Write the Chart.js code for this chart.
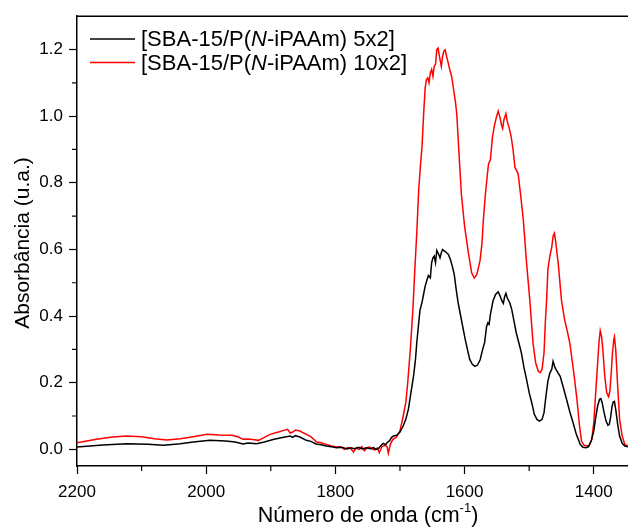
<!DOCTYPE html>
<html>
<head>
<meta charset="utf-8">
<script src="https://cdn.jsdelivr.net/npm/chart.js@4"></script>
<style>
    html, body { margin: 0; padding: 0; background: #fff; }
    #wrap { width: 628px; height: 527px; position: relative; }
</style>
</head>
<body>
<div id="wrap"><canvas id="ftir"></canvas></div>
<script>
// wavenumbers (cm-1) and absorbance
const blackWave = [2200, 2160, 2123, 2090, 2066, 2040, 2020, 1994, 1970, 1955, 1943, 1935, 1922, 1910, 1895, 1880, 1870, 1866, 1862, 1855,
    1845, 1838, 1830, 1822, 1814, 1806, 1798, 1790, 1782, 1776, 1770, 1764, 1758, 1752, 1746, 1741, 1737, 1733, 1729, 1726,
    1722, 1720, 1716, 1713, 1710, 1705, 1700, 1695, 1691, 1687, 1683, 1679, 1676, 1674, 1671, 1669, 1666, 1663, 1661, 1658,
    1656, 1653, 1651, 1649, 1647, 1645, 1643, 1640, 1638, 1636, 1634, 1631, 1628, 1625, 1622, 1619, 1616, 1613, 1610, 1607,
    1603, 1599, 1595, 1592, 1588, 1584, 1580, 1576, 1572, 1569, 1566, 1564, 1562, 1560, 1556, 1552, 1548, 1545, 1542, 1540,
    1538, 1536, 1534, 1530, 1527, 1524, 1520, 1516, 1512, 1508, 1504, 1500, 1496, 1492, 1488, 1484, 1480, 1477, 1474, 1471,
    1468, 1465, 1463, 1460, 1457, 1452, 1447, 1442, 1437, 1432, 1427, 1421, 1417, 1412, 1408, 1404, 1400, 1397, 1394, 1391,
    1389, 1387, 1384, 1381, 1378, 1376, 1374, 1372, 1370, 1368, 1366, 1363, 1360, 1356, 1352, 1347];
const blackAbs = [0.007, 0.013, 0.017, 0.015, 0.012, 0.017, 0.022, 0.027, 0.025, 0.022, 0.016, 0.019, 0.017, 0.022, 0.030, 0.036, 0.040, 0.036, 0.041, 0.037,
    0.027, 0.024, 0.016, 0.014, 0.010, 0.008, 0.005, 0.006, 0.001, 0.005, 0.002, 0.006, 0.001, 0.005, 0.002, 0.005, 0.000, 0.003, 0.012, 0.018,
    0.014, 0.020, 0.026, 0.036, 0.040, 0.042, 0.052, 0.070, 0.090, 0.120, 0.170, 0.220, 0.270, 0.320, 0.380, 0.418, 0.440, 0.470, 0.490, 0.510,
    0.522, 0.515, 0.560, 0.575, 0.580, 0.560, 0.597, 0.585, 0.575, 0.590, 0.600, 0.595, 0.590, 0.585, 0.570, 0.550, 0.525, 0.480, 0.440, 0.410,
    0.370, 0.330, 0.295, 0.270, 0.255, 0.249, 0.253, 0.268, 0.300, 0.320, 0.368, 0.380, 0.375, 0.405, 0.445, 0.465, 0.473, 0.460, 0.445, 0.438,
    0.458, 0.468, 0.455, 0.440, 0.420, 0.390, 0.350, 0.320, 0.289, 0.245, 0.209, 0.170, 0.140, 0.105, 0.090, 0.085, 0.090, 0.110, 0.160, 0.205,
    0.229, 0.240, 0.264, 0.245, 0.235, 0.219, 0.185, 0.149, 0.112, 0.080, 0.045, 0.015, 0.006, 0.005, 0.008, 0.025, 0.055, 0.095, 0.130, 0.150,
    0.152, 0.140, 0.110, 0.085, 0.072, 0.075, 0.095, 0.125, 0.142, 0.144, 0.120, 0.075, 0.040, 0.018, 0.010, 0.008];

const redWave = [2200, 2170, 2145, 2123, 2100, 2080, 2061, 2040, 2020, 1999, 1980, 1960, 1950, 1943, 1935, 1925, 1919, 1910, 1901, 1888,
    1880, 1874, 1870, 1866, 1862, 1855, 1845, 1838, 1829, 1822, 1814, 1806, 1798, 1792, 1786, 1781, 1776, 1772, 1768, 1763,
    1759, 1755, 1751, 1747, 1743, 1739, 1735, 1732, 1728, 1724, 1720, 1718, 1715, 1711, 1706, 1700, 1695, 1691, 1688, 1684,
    1680, 1677, 1674, 1671, 1668, 1666, 1663, 1661, 1659, 1657, 1655, 1653, 1651, 1649, 1647, 1645, 1643, 1641, 1639, 1636,
    1634, 1632, 1630, 1628, 1626, 1623, 1620, 1617, 1614, 1612, 1609, 1605, 1600, 1594, 1589, 1585, 1581, 1576, 1573, 1571,
    1568, 1566, 1563, 1560, 1557, 1554, 1551, 1548, 1545, 1543, 1541, 1539, 1536, 1534, 1531, 1528, 1525, 1522, 1519, 1517,
    1513, 1509, 1504, 1499, 1494, 1490, 1486, 1483, 1480, 1477, 1475, 1473, 1471, 1468, 1465, 1463, 1461, 1459, 1457, 1455,
    1450, 1445, 1441, 1437, 1433, 1430, 1426, 1422, 1419, 1415, 1411, 1407, 1403, 1400, 1397, 1394, 1392, 1390, 1388, 1386,
    1383, 1380, 1377, 1375, 1373, 1371, 1369, 1368, 1366, 1363, 1360, 1356, 1352, 1347];
const redAbs = [0.020, 0.030, 0.037, 0.040, 0.038, 0.032, 0.028, 0.032, 0.038, 0.045, 0.043, 0.042, 0.037, 0.030, 0.031, 0.029, 0.027, 0.036, 0.045, 0.052,
    0.057, 0.060, 0.049, 0.052, 0.058, 0.055, 0.045, 0.038, 0.022, 0.020, 0.015, 0.010, 0.007, 0.008, 0.000, 0.005, 0.002, -0.008, 0.004, 0.000,
    0.008, -0.004, 0.005, 0.007, 0.001, -0.002, 0.004, -0.010, 0.008, 0.012, 0.008, -0.012, 0.015, 0.030, 0.036, 0.055, 0.100, 0.140, 0.200, 0.300,
    0.420, 0.540, 0.650, 0.780, 0.860, 0.905, 1.020, 1.085, 1.110, 1.115, 1.100, 1.130, 1.140, 1.120, 1.150, 1.155, 1.200, 1.204, 1.180, 1.149,
    1.180, 1.195, 1.199, 1.180, 1.165, 1.140, 1.119, 1.080, 1.040, 1.005, 0.900, 0.767, 0.670, 0.588, 0.530, 0.514, 0.525, 0.567, 0.620, 0.687,
    0.760, 0.800, 0.856, 0.870, 0.935, 0.970, 0.995, 1.015, 0.995, 0.975, 0.963, 0.990, 1.007, 0.985, 0.965, 0.940, 0.900, 0.846, 0.835, 0.826,
    0.760, 0.687, 0.558, 0.448, 0.318, 0.260, 0.235, 0.230, 0.240, 0.290, 0.380, 0.448, 0.540, 0.580, 0.607, 0.640, 0.649, 0.625, 0.590, 0.558,
    0.448, 0.388, 0.355, 0.318, 0.260, 0.215, 0.149, 0.070, 0.025, 0.012, 0.010, 0.012, 0.030, 0.080, 0.170, 0.260, 0.320, 0.356, 0.340, 0.300,
    0.220, 0.170, 0.158, 0.175, 0.230, 0.290, 0.330, 0.338, 0.300, 0.190, 0.090, 0.040, 0.015, 0.010];

const xMajor = [2200, 2000, 1800, 1600, 1400];
const xMinor = [2100, 1900, 1700, 1500];
const yMajor = [0, 0.2, 0.4, 0.6, 0.8, 1.0, 1.2];
const yMinor = [0.1, 0.3, 0.5, 0.7, 0.9, 1.1];

const legendParts = [
    ['[SBA-15/P(', 'N', '-iPAAm) 5x2]'],
    ['[SBA-15/P(', 'N', '-iPAAm) 10x2]']
];
const seriesColors = ['#000000', '#ff0000'];

const FONT = '"Liberation Sans", Arial, sans-serif';

function toPoints(xs, ys) {
    return xs.map((x, i) => ({ x: x, y: ys[i] }));
}

// frame, minor ticks, legend and axis titles
const decorations = {
    id: 'decorations',
    afterDraw(chart) {
        const ctx = chart.ctx;
        const area = chart.chartArea;
        const xs = chart.scales.x;
        const ys = chart.scales.y;
        ctx.save();
        ctx.strokeStyle = '#000';
        ctx.lineWidth = 1.5;
        ctx.beginPath();
        ctx.moveTo(area.left, area.top);
        ctx.lineTo(area.right, area.top);
        ctx.stroke();

        ctx.lineWidth = 1.2;
        ctx.beginPath();
        xMinor.forEach(v => {
            const px = xs.getPixelForValue(v);
            ctx.moveTo(px, area.bottom);
            ctx.lineTo(px, area.bottom + 5);
        });
        yMinor.forEach(v => {
            const py = ys.getPixelForValue(v);
            ctx.moveTo(area.left, py);
            ctx.lineTo(area.left - 5, py);
        });
        ctx.stroke();

        // legend
        const lineY = [39, 62.5];
        ctx.textBaseline = 'middle';
        ctx.textAlign = 'left';
        legendParts.forEach((parts, i) => {
            ctx.strokeStyle = seriesColors[i];
            ctx.lineWidth = 1.5;
            ctx.beginPath();
            ctx.moveTo(90, lineY[i]);
            ctx.lineTo(135, lineY[i]);
            ctx.stroke();
            let tx = 141;
            ctx.fillStyle = '#000';
            parts.forEach((p, j) => {
                ctx.font = (j === 1 ? 'italic ' : '') + '22px ' + FONT;
                ctx.fillText(p, tx, lineY[i] + 1);
                tx += ctx.measureText(p).width;
            });
        });

        // x title with superscript
        ctx.fillStyle = '#000';
        ctx.font = '21.5px ' + FONT;
        const main = 'Número de onda (cm';
        const sup = '-1';
        const close = ')';
        const wMain = ctx.measureText(main).width;
        const wClose = ctx.measureText(close).width;
        ctx.font = '13px ' + FONT;
        const wSup = ctx.measureText(sup).width;
        const total = wMain + wSup + wClose;
        let tx = 368 - total / 2;
        const baseY = 522;
        ctx.textBaseline = 'alphabetic';
        ctx.font = '21.5px ' + FONT;
        ctx.fillText(main, tx, baseY);
        tx += wMain;
        ctx.font = '13px ' + FONT;
        ctx.fillText(sup, tx, baseY - 10);
        tx += wSup;
        ctx.font = '21.5px ' + FONT;
        ctx.fillText(close, tx, baseY);

        // y title
        ctx.save();
        ctx.translate(23, 243);
        ctx.rotate(-Math.PI / 2);
        ctx.textAlign = 'center';
        ctx.textBaseline = 'middle';
        ctx.font = '21px ' + FONT;
        ctx.fillText('Absorbância (u.a.)', 0, 0);
        ctx.restore();
        ctx.restore();
    }
};

const ctx = document.getElementById('ftir').getContext('2d');
new Chart(ctx, {
    type: 'line',
    data: {
        datasets: [
            {
                label: legendParts[0].join(''),
                data: toPoints(blackWave, blackAbs),
                borderColor: seriesColors[0],
                borderWidth: 1.5,
                pointRadius: 0,
                tension: 0
            },
            {
                label: legendParts[1].join(''),
                data: toPoints(redWave, redAbs),
                borderColor: seriesColors[1],
                borderWidth: 1.5,
                pointRadius: 0,
                tension: 0
            }
        ]
    },
    options: {
        responsive: true,
        maintainAspectRatio: false,
        animation: false,
        layout: { padding: { top: 14, right: 0, left: 0, bottom: 0 } },
        plugins: {
            legend: { display: false },
            tooltip: { enabled: false }
        },
        scales: {
            x: {
                type: 'linear',
                reverse: true,
                min: 1347,
                max: 2200,
                afterFit: s => { s.height = 61; },
                afterBuildTicks: s => { s.ticks = xMajor.map(v => ({ value: v })); },
                grid: { drawOnChartArea: false, drawTicks: true, tickLength: 8, tickColor: '#000', tickWidth: 1.2 },
                border: { display: true, color: '#000', width: 1.5 },
                ticks: {
                    color: '#000',
                    font: { family: FONT, size: 17 },
                    padding: 8,
                    maxRotation: 0,
                    callback: v => String(v)
                }
            },
            y: {
                min: -0.05,
                max: 1.3,
                afterFit: s => { s.width = 77; },
                afterBuildTicks: s => { s.ticks = yMajor.map(v => ({ value: v })); },
                grid: { drawOnChartArea: false, drawTicks: true, tickLength: 8, tickColor: '#000', tickWidth: 1.2 },
                border: { display: true, color: '#000', width: 1.5 },
                ticks: {
                    color: '#000',
                    font: { family: FONT, size: 17 },
                    padding: 6,
                    callback: v => v.toFixed(1)
                }
            }
        }
    },
    plugins: [decorations]
});
</script>
</body>
</html>
